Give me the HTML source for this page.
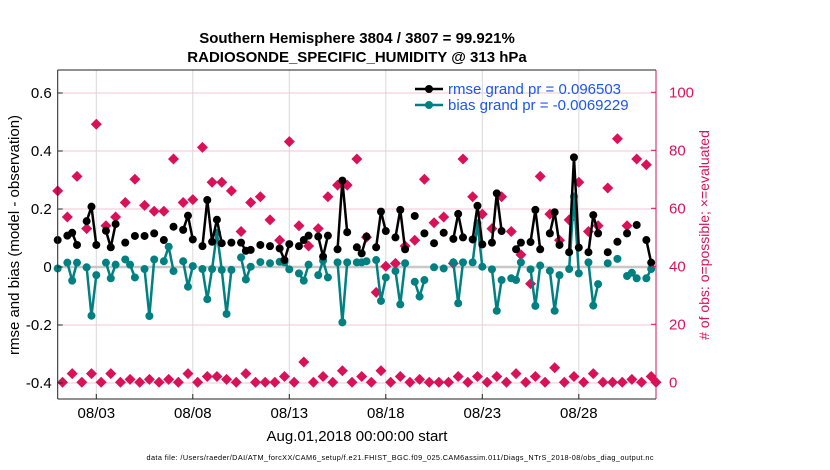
<!DOCTYPE html>
<html><head><meta charset="utf-8">
<style>
html,body{margin:0;padding:0;background:#fff;}
svg{display:block;font-family:"Liberation Sans",sans-serif;}
</style></head>
<body>
<svg id="chart" width="830" height="470" viewBox="0 0 830 470">
<text x="357" y="43" text-anchor="middle" font-size="15" font-weight="bold">Southern Hemisphere 3804 / 3807 = 99.921%</text>
<text x="357" y="62" text-anchor="middle" font-size="15" font-weight="bold">RADIOSONDE_SPECIFIC_HUMIDITY @ 313 hPa</text>
<g id="grid"></g>
<g id="marks"></g>
<g id="axes"></g>
<text transform="translate(19,235) rotate(-90)" text-anchor="middle" font-size="15">rmse and bias (model - observation)</text>
<text transform="translate(709,235) rotate(-90)" text-anchor="middle" font-size="14" fill="#d6145a"># of obs: o=possible; ×=evaluated</text>
<text x="357" y="441" text-anchor="middle" font-size="15">Aug.01,2018 00:00:00 start</text>
<text x="400" y="460" text-anchor="middle" font-size="7.3" textLength="507">data file: /Users/raeder/DAI/ATM_forcXX/CAM6_setup/f.e21.FHIST_BGC.f09_025.CAM6assim.011/Diags_NTrS_2018-08/obs_diag_output.nc</text>
<g>
<line x1="415" y1="89" x2="443" y2="89" stroke="#000" stroke-width="2.5"/>
<circle cx="429" cy="89" r="4" fill="#000"/>
<text x="448" y="94" font-size="15" fill="#1a55f5">rmse grand pr = 0.096503</text>
<line x1="415" y1="105" x2="443" y2="105" stroke="#008080" stroke-width="2.5"/>
<circle cx="429" cy="105" r="4" fill="#008080"/>
<text x="448" y="110" font-size="15" fill="#1a55f5">bias grand pr = -0.0069229</text>
</g>
</svg>
<script>
// data: 6-hourly slots from Aug 01 00Z
const rmseSlots=[0,2,3,4,6,7,8,10,11,12,14,16,18,20,22,24,26,27,28,30,31,32,33,34,36,38,39,40,42,44,46,47,48,50,51,52,54,55,56,58,59,60,62,63,64,66,67,68,70,71,72,74,76,78,80,82,83,84,86,87,88,90,91,92,95,96,98,99,100,102,103,104,106,107,108,110,111,112,114,116,118,120,122,123];
const rmseVals=[.093,.108,.118,.076,.158,.208,.076,.125,.068,.148,.084,.107,.107,.116,.093,.139,.128,.177,.095,.072,.231,.087,.163,.082,.084,.084,.056,.059,.076,.072,.064,.024,.079,.072,.093,.108,.105,.036,.108,.061,.298,.120,.068,.047,.105,.068,.191,.124,.102,.197,.061,.176,.116,.082,.118,.097,.183,.102,.095,.211,.078,.084,.254,.124,.061,.084,.086,.197,.061,.116,.189,.076,.051,.378,.067,.051,.179,.116,.051,.087,.116,.145,.093,.015];
const biasSlots=[0,2,3,4,6,7,8,10,11,12,14,15,16,18,19,20,22,23,24,26,27,28,30,31,32,33,34,35,36,38,39,40,42,44,46,47,48,50,51,52,54,55,56,58,59,60,62,63,64,66,67,68,70,71,72,74,75,76,78,80,82,83,84,86,87,88,90,91,92,94,95,96,98,99,100,102,103,104,106,107,108,110,111,112,114,116,118,119,120,122,123];
const biasVals=[-.005,.015,-.047,.015,-.001,-.168,-.028,.015,-.039,.008,.026,.008,-.036,-.007,-.169,.026,.020,.070,-.014,.020,-.068,.003,-.007,-.111,-.007,.118,-.010,-.162,-.010,.033,-.043,.001,.017,.013,.018,.016,-.008,-.022,-.047,.008,-.028,.022,-.036,.016,-.191,.016,.016,.016,.020,.024,-.117,-.036,-.014,-.129,.013,-.051,-.102,-.045,-.001,-.005,.016,-.125,.016,.016,.151,.001,-.008,-.151,-.045,-.039,-.045,.016,-.008,-.134,.005,-.013,-.151,-.028,-.007,.243,-.022,.016,-.133,-.059,.013,.028,-.031,-.020,-.039,-.039,-.007];
const obsCounts=[66,0,57,3,71,0,53,3,89,0,54,3,57,0,62,1,70,0,61,1,59,0,59,1,77,0,62,3,63,0,81,2,69,2,69,1,66,0,52,3,62,0,64,0,56,0,49,2,83,0,54,7,47,0,53,2,64,0,68,4,68,0,77,2,50,0,31,4,40,0,41,2,47,0,49,1,70,0,55,0,57,0,41,2,77,0,64,2,58,0,53,2,64,0,52,3,44,0,34,2,71,0,58,5,49,0,56,2,69,0,52,3,54,0,67,0,84,0,54,1,77,0,75,2,0];
const xTickDays=[2,7,12,17,22,27];
const xTickLabels=["08/03","08/08","08/13","08/18","08/23","08/28"];
const yTicks=[-0.4,-0.2,0,0.2,0.4,0.6];
const yTickLabels=["-0.4","-0.2","0","0.2","0.4","0.6"];
const y2Ticks=[0,20,40,60,80,100];

const L=57.7,R=656,T=70,B=399;
const xDay=d=>L+(d/31)*(R-L);
const xSlot=s=>xDay(s/4);
const y1=v=>267-v*290;
const y2=c=>382.3-c*2.9;
const NS="http://www.w3.org/2000/svg";
function mk(tag,attrs,parent){const e=document.createElementNS(NS,tag);for(const k in attrs)e.setAttribute(k,attrs[k]);parent.appendChild(e);return e;}
const grid=document.getElementById('grid'),marks=document.getElementById('marks'),axes=document.getElementById('axes');
const svg=document.getElementById('chart');

mk('rect',{x:L,y:T,width:R-L,height:B-T,fill:'#fff'},grid);
yTicks.forEach(v=>{const g=mk('line',{x1:L,x2:R,y1:y1(v),y2:y1(v),stroke:'#f5c6d6','stroke-width':1},grid);

});
xTickDays.forEach(d=>{const g=mk('line',{x1:xDay(d),x2:xDay(d),y1:T,y2:B,stroke:'#d8d8d8','stroke-width':1},grid);

});
const zl=mk('line',{x1:L,x2:R,y1:y1(0),y2:y1(0),stroke:'#c8c8c8','stroke-width':2.5},grid);



// red obs count markers
obsCounts.forEach((c,i)=>{const cx=xSlot(i),cy=y2(c);
const p=mk('path',{d:`M${cx-5.5},${cy}L${cx},${cy-5.5}L${cx+5.5},${cy}L${cx},${cy+5.5}Z`,fill:'#d81159'},marks);

});

function series(slots,vals,color,name){
  for(let i=1;i<slots.length;i++){if(slots[i]-slots[i-1]===1){
    const l=mk('line',{x1:xSlot(slots[i-1]),y1:y1(vals[i-1]),x2:xSlot(slots[i]),y2:y1(vals[i]),stroke:color,'stroke-width':2.5},marks);
    
    }}
  slots.forEach((s,i)=>{const c=mk('circle',{cx:xSlot(s),cy:y1(vals[i]),r:4,fill:color},marks);
    
    });
}
series(biasSlots,biasVals,'#008080','bias');
series(rmseSlots,rmseVals,'#000','rmse');

// frame and axes
mk('line',{x1:L,y1:T,x2:R,y2:T,stroke:'#222','stroke-width':1},axes);
mk('line',{x1:L,y1:B,x2:R,y2:B,stroke:'#222','stroke-width':1},axes);
mk('line',{x1:L,y1:T,x2:L,y2:B,stroke:'#222','stroke-width':1},axes);
mk('line',{x1:R,y1:T,x2:R,y2:B,stroke:'#d6145a','stroke-width':1},axes);
yTicks.forEach((v,i)=>{mk('line',{x1:L,x2:L+5,y1:y1(v),y2:y1(v),stroke:'#222'},axes);
const t=mk('text',{x:L-6,y:y1(v)+5,'text-anchor':'end','font-size':15},axes);t.textContent=yTickLabels[i];

});
y2Ticks.forEach(c=>{mk('line',{x1:R-5,x2:R,y1:y2(c),y2:y2(c),stroke:'#d6145a'},axes);
const t=mk('text',{x:R+13,y:y2(c)+5,'font-size':15,fill:'#d6145a'},axes);t.textContent=c;

});
xTickDays.forEach((d,i)=>{mk('line',{x1:xDay(d),x2:xDay(d),y1:B-5,y2:B,stroke:'#222'},axes);
const t=mk('text',{x:xDay(d),y:418,'text-anchor':'middle','font-size':15},axes);t.textContent=xTickLabels[i];

});
</script>
</body></html>
